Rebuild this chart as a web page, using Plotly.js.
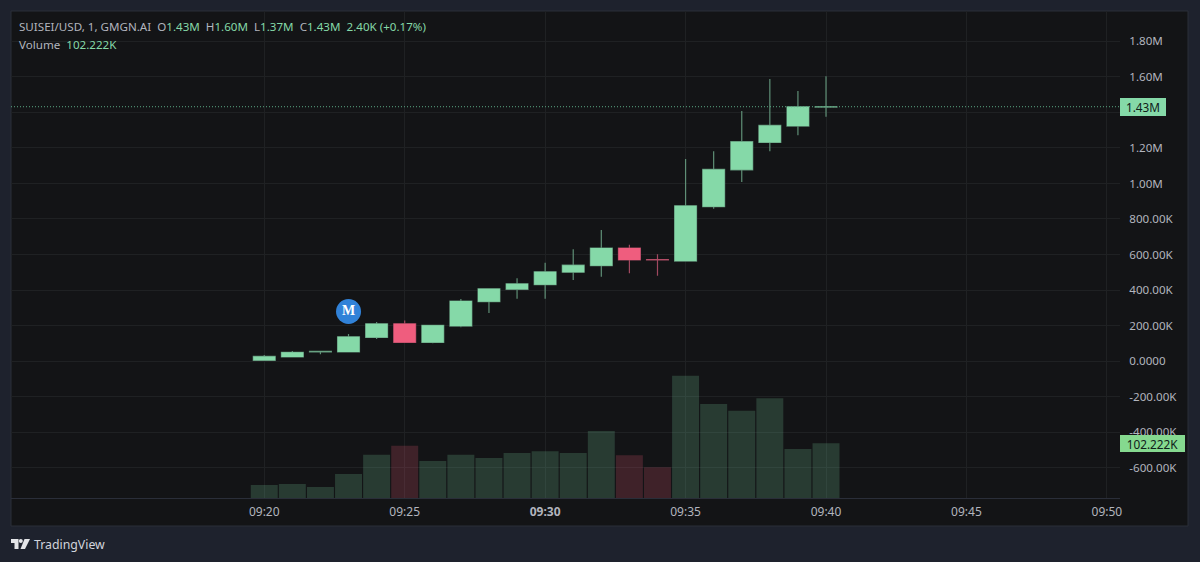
<!DOCTYPE html>
<html><head><meta charset="utf-8">
<script src="https://cdn.plot.ly/plotly-3.0.1.min.js"></script>
<style>html,body{margin:0;padding:0;background:#1e222d;overflow:hidden}#c{width:1200px;height:562px}</style>
</head><body><div id="c"></div>
<script>
const times = ["09:20","09:21","09:22","09:23","09:24","09:25","09:26","09:27","09:28","09:29","09:30","09:31","09:32","09:33","09:34","09:35","09:36","09:37","09:38","09:39","09:40"];
const opens  = [0.004,0.023,0.052,0.051,0.133,0.210,0.105,0.197,0.334,0.404,0.430,0.500,0.537,0.636,0.571,0.563,0.869,1.077,1.231,1.323,1.430];
const closes = [0.026,0.049,0.054,0.137,0.210,0.105,0.201,0.338,0.407,0.435,0.503,0.540,0.636,0.569,0.569,0.874,1.079,1.235,1.327,1.432,1.432];
const highs  = [0.034,0.056,0.056,0.152,0.220,0.229,0.201,0.349,0.407,0.466,0.553,0.630,0.738,0.655,0.602,1.137,1.182,1.408,1.588,1.520,1.604];
const lows   = [0.004,0.023,0.039,0.051,0.124,0.105,0.100,0.191,0.270,0.351,0.351,0.456,0.475,0.494,0.480,0.563,0.858,1.008,1.181,1.272,1.375];
const volumes = [24.3,26.2,20.6,44.9,80.9,97.8,69.2,80.9,74.8,84.1,87.3,84.1,125.2,79.8,57.4,228.6,175.7,163.2,186.4,91.6,102.222];
const priceTicks = [1.8,1.6,1.4,1.2,1.0,0.8,0.6,0.4,0.2,0,-0.2,-0.4,-0.6];
const priceLabels = ["1.80M","1.60M","1.40M","1.20M","1.00M","800.00K","600.00K","400.00K","200.00K","0.0000","-200.00K","-400.00K","-600.00K"];
const timeTicks = ["09:20","09:25","09:30","09:35","09:40","09:45","09:50"];
const timeLabels = ["09:20","09:25","<b>09:30</b>","09:35","09:40","09:45","09:50"];
const lastClose = 1.432, lastVolume = 102.222;
const marker = {time:"09:23", price:0.279, label:"M"};

const day = "2024-01-01 ";
const d = t => day + t;
const FONT = '"Noto Sans", sans-serif';
const GREY = '#b2b5be', UP = '#85d9a8', DOWN = '#ef5d7e', UPW = '#5f8f76', DOWNW = '#a0485f', GRID = '#1f2123';
const up = closes.map((c,i)=>c>=opens[i]);
const x = times.map(d);

const wickTrace = {type:'candlestick', x, open:opens, high:highs, low:lows, close:closes, yaxis:'y', xaxis:'x', hoverinfo:'skip',
  increasing:{line:{color:UPW,width:1.2},fillcolor:UPW}, decreasing:{line:{color:DOWNW,width:1.2},fillcolor:DOWNW}, whiskerwidth:0};
const bodyTrace = {type:'candlestick', x, open:opens, close:closes,
  high:opens.map((o,i)=>Math.max(o,closes[i])), low:opens.map((o,i)=>Math.min(o,closes[i])), yaxis:'y', xaxis:'x', hoverinfo:'skip',
  increasing:{line:{color:UP,width:0},fillcolor:UP}, decreasing:{line:{color:DOWN,width:0},fillcolor:DOWN}, whiskerwidth:0};
const volTrace = {type:'bar', x, y:volumes, yaxis:'y2', xaxis:'x', hoverinfo:'skip',
  marker:{color:up.map(u=>u?'rgba(125,216,165,0.2)':'rgba(240,90,120,0.2)'), line:{width:0}}};
const markTrace = {type:'scatter', mode:'markers+text', x:[d(marker.time)], y:[marker.price], text:['<b>'+marker.label+'</b>'],
  textposition:'middle center', textfont:{family:'"Liberation Serif", serif', size:14, color:'#ffffff'},
  marker:{size:25, color:'#3182d8', line:{width:0}}, hoverinfo:'skip', yaxis:'y', xaxis:'x'};

const g = s => `<span style="color:${UP}">${s}</span>`;
const legend1 = `SUISEI/USD, 1, GMGN.AI  O${g('1.43M')}  H${g('1.60M')}  L${g('1.37M')}  C${g('1.43M')}  ${g('2.40K (+0.17%)')}`;
const legend2 = `Volume  ${g('102.222K')}`;

// pixel helpers for page furniture only
const PW=1109, PH=487;
const px = v => (v-11)/PW, py = v => 1-(v-11)/PH;
const poly = pts => 'M'+pts.map(p=>px(p[0])+','+py(p[1])).join('L')+'Z';

const layout = {
  width:1200, height:562, margin:{l:11,r:80,t:11,b:64,pad:0},
  paper_bgcolor:'#1e222d', plot_bgcolor:'rgba(0,0,0,0)', showlegend:false, bargap:0.04, boxgap:0.22, boxgroupgap:0, boxmode:'overlay',
  font:{family:FONT,size:11.6,color:GREY},
  xaxis:{type:'date', range:[d("09:10:59"),d("09:50:28")], tickmode:'array', tickvals:timeTicks.map(d), ticktext:timeLabels,
    showgrid:true, gridcolor:GRID, gridwidth:1, zeroline:false, showline:true, linecolor:'#2a2e39', linewidth:1, ticks:'outside', ticklen:3, tickcolor:'rgba(0,0,0,0)',
    tickfont:{family:FONT,size:12,color:GREY}, rangeslider:{visible:false}, fixedrange:true, anchor:'y'},
  yaxis:{side:'right', range:[-0.771,1.971], tickmode:'array', tickvals:priceTicks, ticktext:priceLabels,
    showgrid:true, gridcolor:GRID, gridwidth:1, zeroline:false, showline:false, ticks:'outside', ticklen:6, tickcolor:'rgba(0,0,0,0)',
    tickfont:{family:FONT,size:11.6,color:GREY}, fixedrange:true},
  yaxis2:{overlaying:'y', side:'right', range:[0,910.3], visible:false, fixedrange:true},
  shapes:[
    {type:'rect', layer:'below', xref:'paper', yref:'paper', x0:0, x1:px(1188), y0:py(526), y1:py(11), fillcolor:'#131416', line:{color:'#2a2e39',width:1}},
    {type:'line', xref:'paper', yref:'y', x0:0, x1:1, y0:lastClose, y1:lastClose, line:{color:'#5aa884',width:1,dash:'1px,2px'}},
    {type:'path', xref:'paper', yref:'paper', path:poly([[11,539],[18.5,539],[18.5,549],[14.5,549],[14.5,543],[11,543]]), fillcolor:'#e4e5e8', line:{width:0}},
    {type:'circle', xref:'paper', yref:'paper', x0:px(18.8), x1:px(22.8), y0:py(543), y1:py(539), fillcolor:'#e4e5e8', line:{width:0}},
    {type:'path', xref:'paper', yref:'paper', path:poly([[24.5,539],[30,539],[25,549],[20.5,549]]), fillcolor:'#e4e5e8', line:{width:0}}
  ],
  annotations:[
    {xref:'paper', yref:'paper', x:px(17), y:py(26.5), xanchor:'left', yanchor:'middle', text:legend1, showarrow:false, align:'left', font:{family:FONT,size:11.6,color:GREY}},
    {xref:'paper', yref:'paper', x:px(17), y:py(44), xanchor:'left', yanchor:'middle', text:legend2, showarrow:false, align:'left', font:{family:FONT,size:11.6,color:GREY}},
    {xref:'paper', yref:'y', x:1, y:lastClose, xanchor:'left', yanchor:'middle', text:'1.43M', showarrow:false, width:46, height:18, bgcolor:UP, borderpad:0, borderwidth:0, font:{family:FONT,size:11.8,color:'#10201a'}},
    {xref:'paper', yref:'y2', x:1, y:lastVolume, xanchor:'left', yanchor:'middle', text:'102.222K', showarrow:false, width:65, height:17, bgcolor:'#85d98f', borderpad:0, borderwidth:0, font:{family:FONT,size:11.8,color:'#10201a'}},
    {xref:'paper', yref:'paper', x:px(32), y:py(544), xanchor:'left', yanchor:'middle', text:'TradingView', showarrow:false, font:{family:FONT,size:12.3,color:'#d1d4dc'}}
  ]
};
Plotly.newPlot('c',[volTrace,wickTrace,bodyTrace,markTrace],layout,{displayModeBar:false,staticPlot:true});
</script></body></html>
